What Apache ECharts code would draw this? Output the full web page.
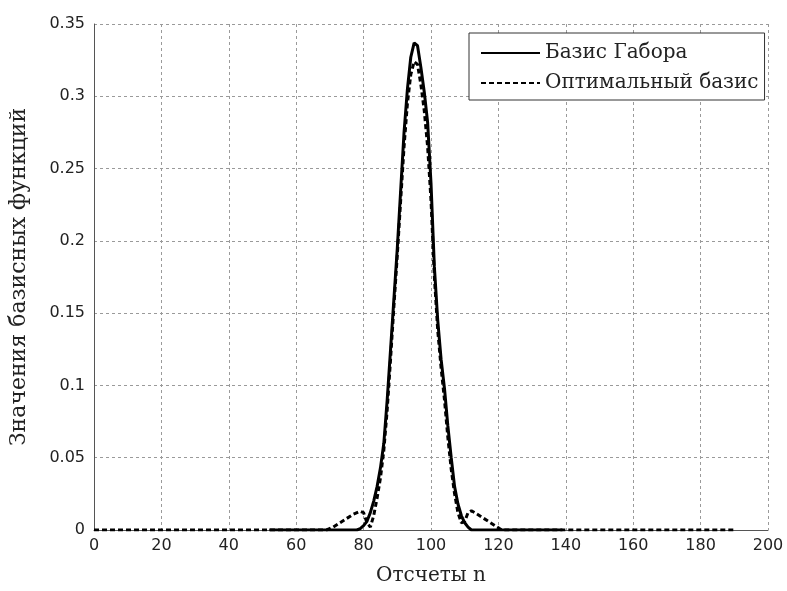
<!DOCTYPE html>
<html>
<head>
<meta charset="utf-8">
<script src="https://cdn.jsdelivr.net/npm/echarts@6/dist/echarts.min.js"></script>
<style>
html,body{margin:0;padding:0;background:#fff;}
#chart{width:787px;height:591px;}
</style>
</head>
<body>
<div id="chart"></div>
<script>
// Data
var gaborN = [52, 78, 79, 80, 81, 82, 83, 84, 85, 86, 87, 88, 89, 90, 91, 92, 93, 94, 95, 96, 97, 98, 99, 100, 101, 102, 103, 104, 105, 106, 107, 108, 109, 110, 111, 112, 139];
var gaborValues = [0, 0, 0.001, 0.003, 0.006, 0.012, 0.020, 0.030, 0.043, 0.060, 0.090, 0.125, 0.160, 0.195, 0.235, 0.275, 0.305, 0.327, 0.337, 0.335, 0.320, 0.303, 0.282, 0.240, 0.182, 0.145, 0.118, 0.098, 0.072, 0.050, 0.030, 0.018, 0.010, 0.005, 0.002, 0, 0];

var optimalN = [0, 69, 71, 73, 75, 77, 79, 80, 81, 82, 83, 84, 85, 86, 87, 88, 89, 90, 91, 92, 93, 94, 95, 96, 97, 98, 99, 100, 101, 102, 103, 104, 105, 106, 107, 108, 109, 110, 111, 112, 113, 115, 117, 119, 121, 190];
var optimalValues = [0, 0, 0.002, 0.005, 0.008, 0.011, 0.013, 0.012, 0.005, 0.002, 0.010, 0.022, 0.036, 0.055, 0.083, 0.118, 0.155, 0.190, 0.228, 0.265, 0.295, 0.315, 0.324, 0.322, 0.308, 0.290, 0.265, 0.228, 0.175, 0.138, 0.112, 0.090, 0.064, 0.042, 0.025, 0.012, 0.005, 0.006, 0.012, 0.0133, 0.012, 0.009, 0.006, 0.003, 0, 0];

var seriesNames = ['Базис Габора', 'Оптимальный базис'];
var xTitle = 'Отсчеты n';
var yTitle = 'Значения базисных функций';

function pairs(xs, ys) {
  var out = [];
  for (var i = 0; i < xs.length; i++) out.push([xs[i], ys[i]]);
  return out;
}

var chart = echarts.init(document.getElementById('chart'), null, {renderer: 'canvas'});
var gridLine = {show: true, lineStyle: {color: '#9a9a9a', type: [3, 3], width: 1}};
chart.setOption({
  animation: false,
  backgroundColor: '#ffffff',
  grid: {left: 92, right: 19, top: 24, bottom: 58, containLabel: false},
  legend: {
    orient: 'vertical',
    left: 469,
    top: 33,
    itemWidth: 59,
    itemHeight: 14,
    itemGap: 10,
    padding: [10, 6, 7, 11],
    backgroundColor: '#ffffff',
    borderColor: '#333333',
    borderWidth: 1,
    borderRadius: 0,
    itemStyle: {opacity: 0},
    textStyle: {fontFamily: 'DejaVu Serif', fontSize: 20, color: '#222'},
    data: seriesNames
  },
  xAxis: {
    type: 'value',
    min: 0, max: 200, interval: 20,
    name: xTitle,
    nameLocation: 'middle',
    nameGap: 36,
    nameTextStyle: {fontFamily: 'DejaVu Serif', fontSize: 20, color: '#222'},
    axisLine: {show: true, lineStyle: {color: '#555', width: 1}},
    axisTick: {show: false},
    axisLabel: {fontFamily: 'DejaVu Sans', fontSize: 16, color: '#222', margin: 8},
    splitLine: gridLine
  },
  yAxis: {
    type: 'value',
    min: 0, max: 0.35, interval: 0.05,
    name: yTitle,
    nameLocation: 'middle',
    nameGap: 64,
    nameTextStyle: {fontFamily: 'DejaVu Serif', fontSize: 22, color: '#222'},
    axisLine: {show: true, lineStyle: {color: '#555', width: 1}},
    axisTick: {show: false},
    axisLabel: {fontFamily: 'DejaVu Sans', fontSize: 16, color: '#222', margin: 9,
      formatter: function (v) { return String(+v.toFixed(2)); }},
    splitLine: gridLine
  },
  series: [
    {
      name: seriesNames[0],
      type: 'line',
      data: pairs(gaborN, gaborValues),
      symbol: 'none',
      lineStyle: {color: '#000', width: 3, type: 'solid'},
      itemStyle: {color: '#000'},
      z: 3
    },
    {
      name: seriesNames[1],
      type: 'line',
      data: pairs(optimalN, optimalValues),
      symbol: 'none',
      lineStyle: {color: '#000', width: 3, type: [5, 3]},
      itemStyle: {color: '#000'},
      z: 4
    }
  ]
});
</script>
</body>
</html>
